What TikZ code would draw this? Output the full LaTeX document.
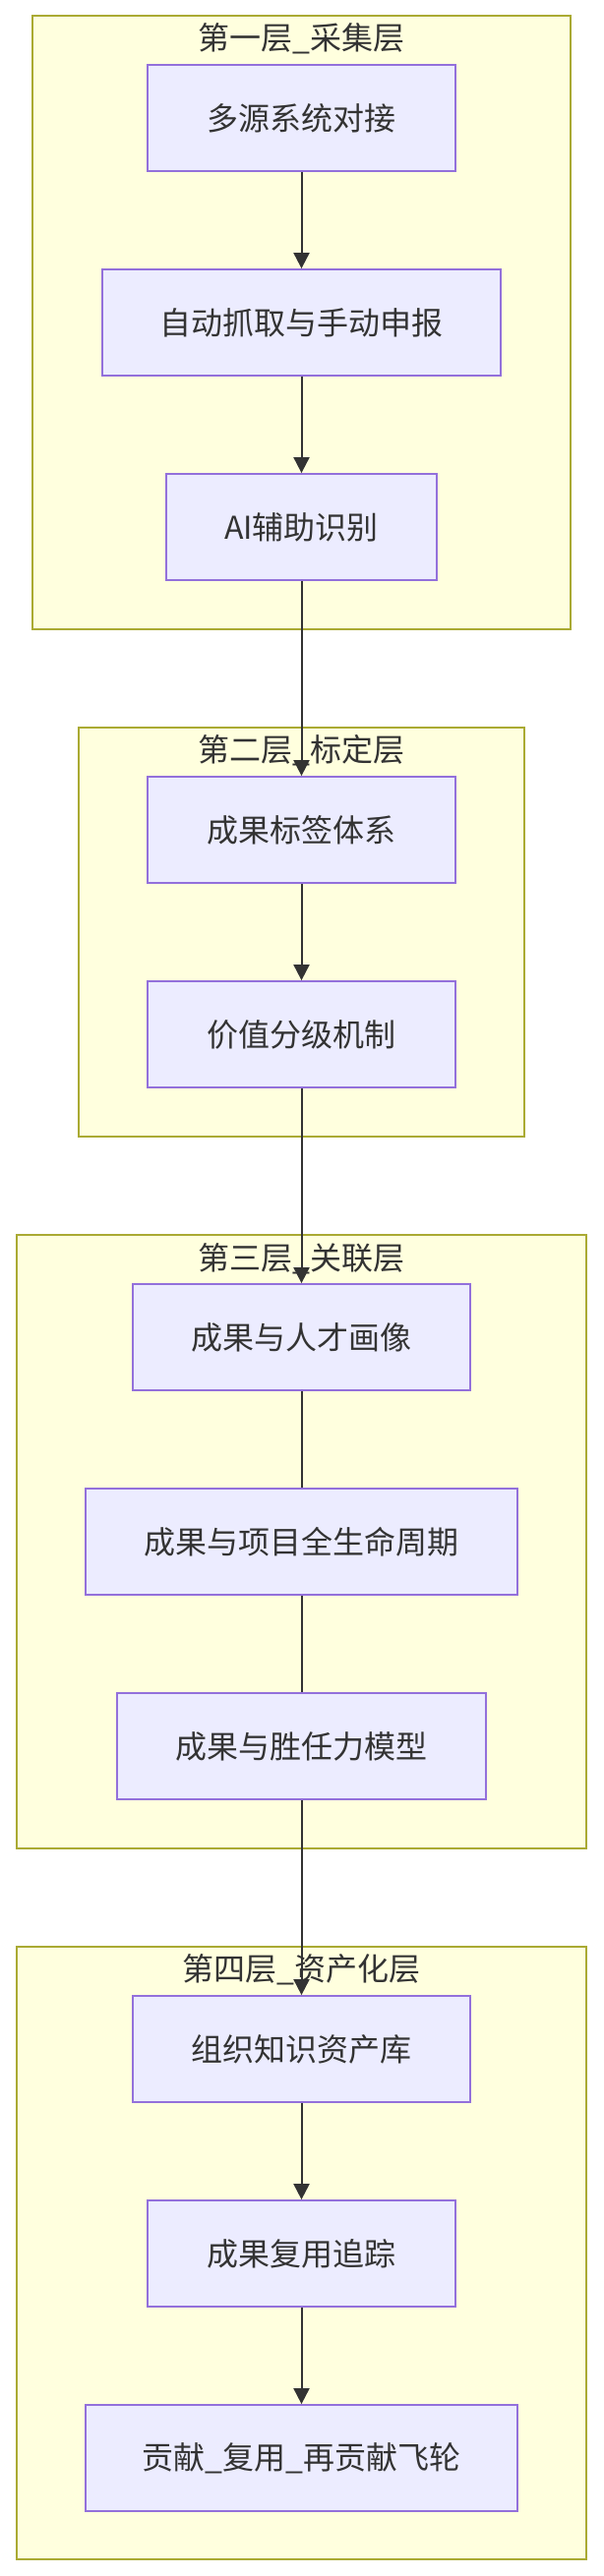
\documentclass[tikz,border=0pt]{standalone}
\usepackage{fontspec}
\setmainfont{Noto Sans CJK SC}
\usetikzlibrary{arrows.meta}

\definecolor{nodefill}{HTML}{ECECFF}
\definecolor{nodeline}{HTML}{9370DB}
\definecolor{layerfill}{HTML}{FFFFDE}
\definecolor{layerline}{HTML}{AAAA33}
\definecolor{ink}{HTML}{333333}

\begin{document}
\begin{tikzpicture}[x=1pt, y=-1pt,
    layer/.style={draw=layerline, fill=layerfill, line width=1.8pt},
    box/.style={draw=nodeline, fill=nodefill, line width=1.8pt, minimum height=108pt, text=ink, font=\fontsize{32}{38}\selectfont},
    ttl/.style={text=ink, inner sep=0pt, font=\fontsize{32}{38}\selectfont},
    link/.style={draw=ink, line width=2pt},
    flow/.style={link, -{Triangle[length=16pt,width=16pt]}}]
    \useasboundingbox (0,0) rectangle (613,2620);

    \coordinate (L1a) at (33,16);   \coordinate (L1b) at (580,640);
    \coordinate (L2a) at (80,740);  \coordinate (L2b) at (533,1156);
    \coordinate (L3a) at (17,1256); \coordinate (L3b) at (596,1880);
    \coordinate (L4a) at (17,1980); \coordinate (L4b) at (596,2603);

    \foreach \l in {1,2,3,4} {\draw[layer] (L\l a) rectangle (L\l b);}

    \node[ttl] (t1) at (306.5,39)   {第一层\_采集层};
    \node[ttl] (t2) at (306.5,763)  {第二层\_标定层};
    \node[ttl] (t3) at (306.5,1280) {第三层\_关联层};
    \node[ttl] (t4) at (306.5,2003) {第四层\_资产化层};

    \node[box, minimum width=313pt] (src)  at (306.5,120)  {多源系统对接};
    \node[box, minimum width=405pt] (grab) at (306.5,328)  {自动抓取与手动申报};
    \node[box, minimum width=275pt] (ai)   at (306.5,536)  {AI辅助识别};

    \node[box, minimum width=313pt] (tag)  at (306.5,844)  {成果标签体系};
    \node[box, minimum width=313pt] (grade) at (306.5,1052) {价值分级机制};

    \node[box, minimum width=343pt] (talent) at (306.5,1360) {成果与人才画像};
    \node[box, minimum width=439pt] (life)   at (306.5,1568) {成果与项目全生命周期};
    \node[box, minimum width=375pt] (comp)   at (306.5,1776) {成果与胜任力模型};

    \node[box, minimum width=343pt] (repo)  at (306.5,2084) {组织知识资产库};
    \node[box, minimum width=313pt] (track) at (306.5,2292) {成果复用追踪};
    \node[box, minimum width=439pt] (wheel) at (306.5,2500) {贡献\_复用\_再贡献飞轮};

    \draw[flow] (src) -- (grab);
    \draw[flow] (grab) -- (ai);
    \draw[flow] (ai) -- (tag);
    \draw[flow] (tag) -- (grade);
    \draw[flow] (grade) -- (talent);
    \draw[link] (talent) -- (life);
    \draw[link] (life) -- (comp);
    \draw[flow] (comp) -- (repo);
    \draw[flow] (repo) -- (track);
    \draw[flow] (track) -- (wheel);
\end{tikzpicture}
\end{document}
